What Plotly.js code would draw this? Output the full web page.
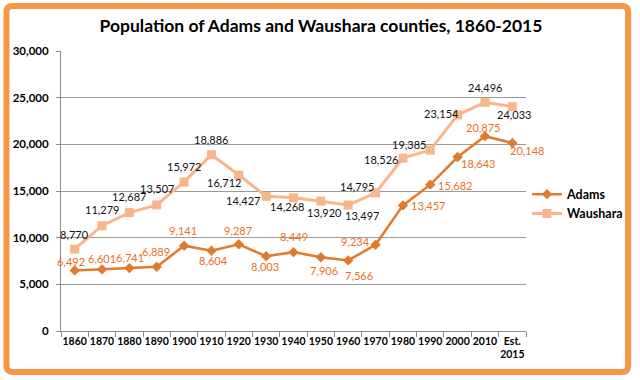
<!DOCTYPE html>
<html><head><meta charset="utf-8">
<script src="https://cdn.plot.ly/plotly-3.0.1.min.js"></script>
<style>html,body{margin:0;padding:0;background:#fff;}#chart{width:640px;height:380px;}</style>
</head><body><div id="chart"></div>
<script>
const categories = ['1860','1870','1880','1890','1900','1910','1920','1930','1940','1950','1960','1970','1980','1990','2000','2010','Est.<br>2015'];
const adams = [6492,6601,6741,6889,9141,8604,9287,8003,8449,7906,7566,9234,13457,15682,18643,20875,20148];
const waushara = [8770,11279,12687,13507,15972,18886,16712,14427,14268,13920,13497,14795,18526,19385,23154,24496,24033];
const yTickVals = [0,5000,10000,15000,20000,25000,30000];
const yTickText = ['0','5,000','10,000','15,000','20,000','25,000','30,000'];

// label offsets in pixels (dx right, dy down) relative to each marker
const adamsOff = [[-4,-9],[0,-11],[1,-11],[-1,-15],[-1,-15],[2,10],[-1,-14],[-1,10],[0,-16],[3,13],[11,15],[-20,-3],[25,0],[25,1],[20,6],[-2,-9],[15,8]];
const wausOff = [[0,-15],[0,-16],[0,-16],[0,-16],[0,-15],[0,-15],[-15,7],[-23,4],[-7,9],[4,11],[14,10],[-19,-6],[-22,1],[-21,-6],[-16,-1],[0,-15],[2,8]];

const L = 61, T = 51, W = 469, H = 280;
const px = x => (x - L) / W;
const py = y => (T + H - y) / H;
const fmt = v => v.toLocaleString('en-US');

const annotations = [];
adams.forEach((v,i) => annotations.push({x: i, y: v, xref:'x', yref:'y', text: fmt(v), showarrow:false,
  xshift: adamsOff[i][0], yshift: -adamsOff[i][1], font:{family:'Lato, sans-serif', size:11, color:'#E8701F'}}));
waushara.forEach((v,i) => annotations.push({x: i, y: v, xref:'x', yref:'y', text: fmt(v), showarrow:false,
  xshift: wausOff[i][0], yshift: -wausOff[i][1], font:{family:'Lato, sans-serif', size:11, color:'#111'}}));

// orange rounded frame
const x0=px(6), x1=px(633), y0=py(6), y1=py(372);
const rx = 6/W, ry = 6/H;
const framePath = `M ${x0+rx},${y0} L ${x1-rx},${y0} Q ${x1},${y0} ${x1},${y0-ry} L ${x1},${y1+ry} Q ${x1},${y1} ${x1-rx},${y1} L ${x0+rx},${y1} Q ${x0},${y1} ${x0},${y1+ry} L ${x0},${y0-ry} Q ${x0},${y0} ${x0+rx},${y0} Z`;

const traces = [
  {x: categories, y: adams, name:'Adams', type:'scatter', mode:'lines+markers',
   line:{color:'#E07A2C', width:2.5}, marker:{symbol:'diamond', size:8, color:'#E07A2C'}},
  {x: categories, y: waushara, name:'Waushara', type:'scatter', mode:'lines+markers',
   line:{color:'#FAB58A', width:3}, marker:{symbol:'square', size:9, color:'#FAB58A'}}
];

const layout = {
  width:640, height:380,
  margin:{l:L, r:640-L-W, t:T, b:380-T-H},
  paper_bgcolor:'#fff', plot_bgcolor:'#fff',
  title:{text:'Population of Adams and Waushara counties, 1860-2015', x:321/640, xref:'container', xanchor:'center', y:1-26/380, yref:'container', yanchor:'middle',
    font:{family:'Lato, sans-serif', size:17.5, color:'#000', weight:'bold'}},
  showlegend:true,
  legend:{x:px(531), xanchor:'left', y:py(204), yanchor:'middle', bgcolor:'rgba(0,0,0,0)',
    font:{family:'Lato, sans-serif', size:12.5, color:'#000', weight:'bold'}, tracegroupgap:0},
  xaxis:{type:'category', range:[-0.5,16.5], showgrid:false, showline:true, linecolor:'#8c8c8c', linewidth:1,
    ticks:'outside', tickson:'boundaries', ticklen:5, tickcolor:'#8c8c8c', tickangle:0,
    tickfont:{family:'Lato, sans-serif', size:10.5, color:'#000', weight:'bold'}, zeroline:false, fixedrange:true},
  yaxis:{range:[0,30000], tickvals:yTickVals, ticktext:yTickText, showgrid:true, gridcolor:'#9a9a9a', gridwidth:1,
    showline:true, linecolor:'#8c8c8c', ticks:'outside', ticklen:4, tickcolor:'#8c8c8c', ticklabelstandoff:5,
    tickfont:{family:'Lato, sans-serif', size:11.5, color:'#000', weight:'bold'}, zeroline:false, fixedrange:true},
  annotations: annotations,
  shapes:[{type:'path', xref:'paper', yref:'paper', path: framePath, line:{color:'#F79646', width:6}, fillcolor:'rgba(0,0,0,0)'}]
};
Plotly.newPlot('chart', traces, layout, {staticPlot:true, displayModeBar:false});
</script></body></html>
